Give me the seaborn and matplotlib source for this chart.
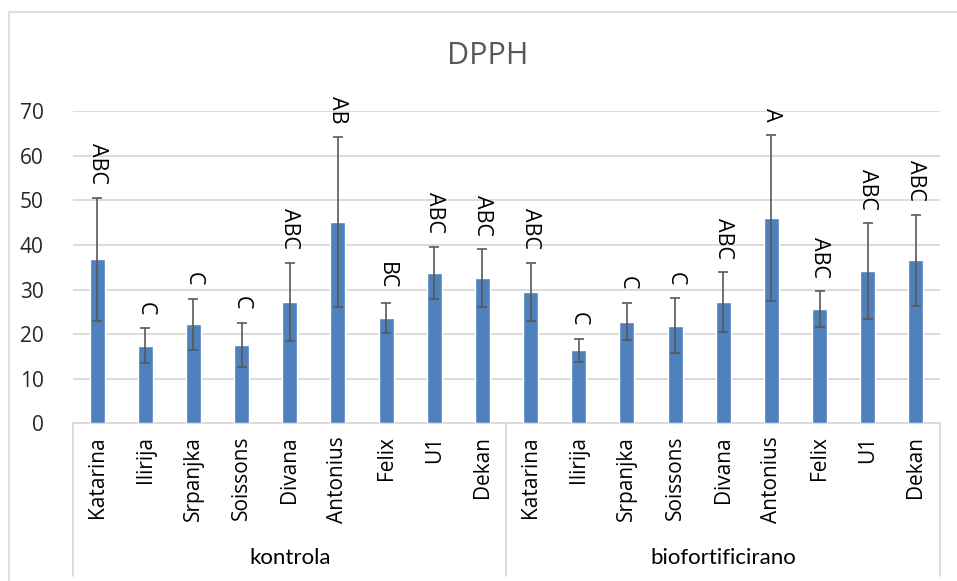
import pandas as pd
import matplotlib.pyplot as plt
import matplotlib.transforms as mtransforms
from matplotlib.patches import Rectangle
import seaborn as sns

# Data
groups = ['kontrola', 'biofortificirano']
cultivars = ['Katarina', 'Ilirija', 'Srpanjka', 'Soissons', 'Divana',
             'Antonius', 'Felix', 'U1', 'Dekan']

kontrola_mean = [36.8, 17.4, 22.2, 17.6, 27.2, 45.1, 23.7, 33.7, 32.6]
kontrola_err = [13.8, 3.9, 5.7, 5.0, 8.8, 19.1, 3.4, 5.9, 6.4]
kontrola_letters = ['ABC', 'C', 'C', 'C', 'ABC', 'AB', 'BC', 'ABC', 'ABC']

bio_mean = [29.5, 16.4, 22.8, 21.9, 27.2, 46.1, 25.6, 34.1, 36.6]
bio_err = [6.5, 2.6, 4.2, 6.1, 6.7, 18.6, 4.0, 10.7, 10.2]
bio_letters = ['ABC', 'C', 'C', 'C', 'ABC', 'A', 'ABC', 'ABC', 'ABC']

# Build a long table, one row per bar
df = pd.DataFrame({
    'group': [groups[0]] * 9 + [groups[1]] * 9,
    'cultivar': cultivars * 2,
    'value': kontrola_mean + bio_mean,
    'err': kontrola_err + bio_err,
    'letter': kontrola_letters + bio_letters,
})
df['pos'] = range(len(df))

sns.set_theme(style='white')
plt.rcParams['font.family'] = ['Open Sans', 'DejaVu Sans']

fig = plt.figure(figsize=(9.57, 5.81), dpi=100)
ax = fig.add_axes([0.0763, 0.2711, 0.9059, 0.5379])

sns.barplot(data=df, x='pos', y='value', color='#4F81BD', saturation=1,
            width=0.31, errorbar=None, ax=ax, zorder=3)
ax.errorbar(df['pos'], df['value'], yerr=df['err'], fmt='none',
            ecolor='#595959', elinewidth=1.2, capsize=3.9, capthick=1.2, zorder=4)

# significance letters above the error bars
for _, row in df.iterrows():
    ax.text(row['pos'], row['value'] + row['err'] + 3, row['letter'],
            rotation=-90, ha='center', va='bottom', fontsize=15.5, color='black')

# axes styling
ax.set_xlim(-0.5, 17.5)
ax.set_ylim(0, 70)
ax.set_yticks(range(0, 71, 10))
ax.yaxis.grid(True, color='#D9D9D9', linewidth=1.3, zorder=0)
ax.set_axisbelow(True)
for side in ['left', 'right', 'top']:
    ax.spines[side].set_visible(False)
ax.spines['bottom'].set_color('#D9D9D9')
ax.spines['bottom'].set_linewidth(1.3)
ax.tick_params(axis='y', length=0, labelsize=15, labelcolor='#262626', pad=21)
ax.tick_params(axis='x', length=0, labelsize=15, labelcolor='black', pad=9)
ax.set_xticks(df['pos'])
ax.set_xticklabels(df['cultivar'], rotation=90)
ax.set_xlabel('')
ax.set_ylabel('')

# multi-level category axis: group separators and group names
trans = mtransforms.blended_transform_factory(ax.transData, ax.transAxes)
for xline in [-0.5, 8.5, 17.5]:
    ax.plot([xline, xline], [0, -0.487], transform=trans, color='#D9D9D9',
            linewidth=1.3, clip_on=False)
for i, g in enumerate(groups):
    ax.text(i * 9 + 4, -0.43, g, transform=trans, ha='center', va='center',
            fontsize=16, family='Lato', color='black')

fig.text(0.51, 0.904, 'DPPH', ha='center', va='center', fontsize=22,
         color='#595959')

# chart area border
fig.patches.append(Rectangle((0.0094, -0.2), 1.2, 1.1793, transform=fig.transFigure,
                             fill=False, edgecolor='#D9D9D9', linewidth=1.2))

fig.savefig('out.png', dpi=100)
